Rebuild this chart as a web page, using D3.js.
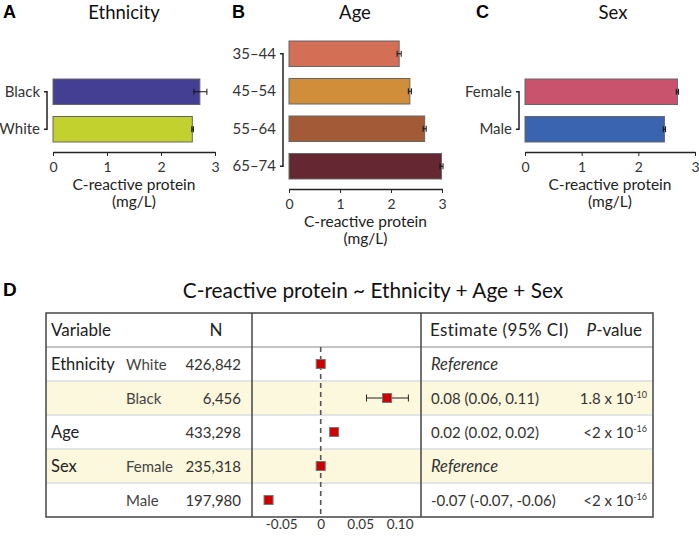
<!DOCTYPE html>
<html>
<head>
<meta charset="UTF-8">
<style>
  body { margin: 0; background: #fff; font-family: Lato, "Open Sans", sans-serif; }
  svg { display: block; }
  .letter { font-family: "Liberation Sans", Arial, sans-serif; font-weight: bold; font-size: 18px; fill: #000; }
  .ptitle { font-size: 18.5px; fill: #111; }
  .tick text { font-family: Lato, sans-serif; font-size: 14px; fill: #333; }
  .cell { font-size: 15px; fill: #222; }
</style>
</head>
<body>
<svg id="chart" width="699" height="536"></svg>
<script src="https://d3js.org/d3.v7.min.js"></script>
<script>
// panel A: ethnicity
let ethLabels = ["Black", "White"];
let ethValues = [2.72, 2.58];
let ethLow = [2.61, 2.57];
let ethHigh = [2.85, 2.60];
let ethColors = ["#453f93", "#c3d12f"];

// panel B: age
let ageLabels = ["35\u201344", "45\u201354", "55\u201364", "65\u201374"];
let ageValues = [2.16, 2.37, 2.66, 2.99];
let ageLow = [2.12, 2.34, 2.63, 2.96];
let ageHigh = [2.20, 2.40, 2.69, 3.02];
let ageColors = ["#d26f55", "#d08e3a", "#a35a36", "#652833"];

// panel C: sex
let sexLabels = ["Female", "Male"];
let sexValues = [2.69, 2.46];
let sexLow = [2.67, 2.44];
let sexHigh = [2.71, 2.48];
let sexColors = ["#c9536c", "#3b64b0"];

let barTicks = [0, 1, 2, 3];

// panel D: regression table
let varNames = ["Ethnicity", "", "Age", "Sex", ""];
let levelNames = ["White", "Black", "", "Female", "Male"];
let nValues = ["426,842", "6,456", "433,298", "235,318", "197,980"];
let estimates = [0, 0.084, 0.017, 0, -0.066];
let ciLower = [null, 0.058, 0.015, null, -0.070];
let ciUpper = [null, 0.111, 0.019, null, -0.062];
let estLabels = ["Reference", "0.08 (0.06, 0.11)", "0.02 (0.02, 0.02)", "Reference", "-0.07 (-0.07, -0.06)"];
let pBase = ["", "1.8 x 10", "<2 x 10", "", "<2 x 10"];
let pExp = ["", "-10", "-16", "", "-16"];
let forestTicks = [-0.05, 0, 0.05, 0.10];
let forestTickLabels = ["-0.05", "0", "0.05", "0.10"];

let svg = d3.select("#chart");

function barPanel(o) {
  let g = svg.append("g");
  let x = d3.scaleLinear().domain([0, 3]).range([o.x0, o.x1]);
  let y = d3.scaleBand().domain(o.labels)
      .range([o.y0, o.y0 + 37.5 * o.labels.length])
      .paddingInner(0.32).paddingOuter(0.16);

  g.append("text").attr("class", "letter").attr("x", o.lx).attr("y", 18).text(o.letter);
  g.append("text").attr("class", "ptitle").attr("x", o.tx).attr("y", 18.5)
      .attr("text-anchor", "middle").text(o.title);

  g.selectAll("rect.bar").data(o.values).enter().append("rect")
      .attr("x", x(0))
      .attr("y", (d, i) => y(o.labels[i]))
      .attr("width", d => x(d) - x(0))
      .attr("height", y.bandwidth())
      .attr("fill", (d, i) => o.colors[i])
      .attr("stroke", "#666").attr("stroke-width", 1);

  let eb = g.selectAll("g.err").data(o.values).enter().append("g")
      .attr("transform", (d, i) => "translate(0," + (y(o.labels[i]) + y.bandwidth() / 2) + ")");
  eb.append("line")
      .attr("x1", (d, i) => x(o.low[i])).attr("x2", (d, i) => x(o.high[i]))
      .attr("stroke", "#111").attr("stroke-width", 1);
  eb.append("line")
      .attr("x1", (d, i) => x(o.low[i])).attr("x2", (d, i) => x(o.low[i]))
      .attr("y1", -3).attr("y2", 3).attr("stroke", "#111");
  eb.append("line")
      .attr("x1", (d, i) => x(o.high[i])).attr("x2", (d, i) => x(o.high[i]))
      .attr("y1", -3).attr("y2", 3).attr("stroke", "#111");

  // bracket-style y axis
  let first = y(o.labels[0]) + y.bandwidth() / 2;
  let last = y(o.labels[o.labels.length - 1]) + y.bandwidth() / 2;
  let bx = x(0) - 6;
  g.append("path")
      .attr("d", "M" + (bx - 3) + "," + first + "H" + bx + "V" + last + "H" + (bx - 3))
      .attr("fill", "none").attr("stroke", "#222").attr("stroke-width", 1.5);
  g.selectAll("text.cat").data(o.labels).enter().append("text")
      .attr("class", "cell")
      .attr("x", bx - 7)
      .attr("y", d => y(d) + y.bandwidth() / 2 + 5)
      .attr("text-anchor", "end")
      .style("fill", "#333")
      .text(d => d);

  let axisY = o.y0 + 37.5 * o.labels.length + 4;
  let ax = g.append("g").attr("transform", "translate(0," + axisY + ")")
      .call(d3.axisBottom(x).tickValues(barTicks).tickFormat(d3.format("d")).tickSize(4).tickSizeOuter(0));
  ax.select(".domain").attr("stroke", "#222").attr("stroke-width", 1.5);
  ax.selectAll(".tick line").attr("stroke", "#222");
  ax.selectAll(".tick text").attr("dy", "0.95em");

  let cx = (o.x0 + o.x1) / 2;
  g.append("text").attr("class", "cell").attr("x", cx).attr("y", axisY + 38)
      .attr("text-anchor", "middle").style("fill", "#222").style("font-size", "15.5px").text("C-reactive protein");
  g.append("text").attr("class", "cell").attr("x", cx).attr("y", axisY + 55)
      .attr("text-anchor", "middle").style("fill", "#222").style("font-size", "15.5px").text("(mg/L)");
}

barPanel({letter: "A", lx: 3, title: "Ethnicity", tx: 124, x0: 53, x1: 215, y0: 73,
  labels: ethLabels, values: ethValues, low: ethLow, high: ethHigh, colors: ethColors});
barPanel({letter: "B", lx: 232, title: "Age", tx: 355, x0: 289, x1: 442, y0: 35,
  labels: ageLabels, values: ageValues, low: ageLow, high: ageHigh, colors: ageColors});
barPanel({letter: "C", lx: 476, title: "Sex", tx: 613, x0: 525, x1: 695, y0: 73,
  labels: sexLabels, values: sexValues, low: sexLow, high: sexHigh, colors: sexColors});

// ---- panel D ----
let d = svg.append("g");
d.append("text").attr("class", "letter").attr("x", 3).attr("y", 296).style("font-size", "19px").text("D");
d.append("text").attr("class", "ptitle").attr("x", 373).attr("y", 298).style("font-size", "20.8px")
    .attr("text-anchor", "middle").text("C-reactive protein ~ Ethnicity + Age + Sex");

let tLeft = 46, tRight = 653, tTop = 313, headH = 34, rowH = 34;
let divA = 252, divB = 421;
let rowY = d3.scaleBand().domain(d3.range(varNames.length))
    .range([tTop + headH, tTop + headH + rowH * varNames.length]);
let tBottom = tTop + headH + rowH * varNames.length;

d.selectAll("rect.row").data(varNames).enter().append("rect")
    .attr("x", tLeft).attr("y", (v, i) => rowY(i))
    .attr("width", tRight - tLeft).attr("height", rowY.bandwidth())
    .attr("fill", (v, i) => i % 2 === 1 ? "#fcf8dd" : "#fff");

d.selectAll("line.sep").data(d3.range(1, varNames.length)).enter().append("line")
    .attr("x1", tLeft).attr("x2", tRight)
    .attr("y1", i => rowY(i)).attr("y2", i => rowY(i))
    .attr("stroke", "#e4e4e4").attr("stroke-width", 2);
d.append("line").attr("x1", tLeft).attr("x2", tRight)
    .attr("y1", tTop + headH).attr("y2", tTop + headH)
    .attr("stroke", "#8a8a8a").attr("stroke-width", 1.2);

// forest
let fx = d3.scaleLinear().domain([-0.05, 0.10]).range([281.2, 399.7]);
d.append("line").attr("x1", fx(0)).attr("x2", fx(0))
    .attr("y1", tTop + headH).attr("y2", tBottom)
    .attr("stroke", "#555").attr("stroke-width", 1.6).attr("stroke-dasharray", "5,4");

estimates.forEach((e, i) => {
  let cy = rowY(i) + rowH / 2;
  if (ciLower[i] !== null) {
    d.append("line").attr("x1", fx(ciLower[i])).attr("x2", fx(ciUpper[i]))
        .attr("y1", cy).attr("y2", cy).attr("stroke", "#222").attr("stroke-width", 1);
    [ciLower[i], ciUpper[i]].forEach(c => {
      d.append("line").attr("x1", fx(c)).attr("x2", fx(c))
          .attr("y1", cy - 3.5).attr("y2", cy + 3.5).attr("stroke", "#222").attr("stroke-width", 1);
    });
  }
  d.append("rect").attr("x", fx(e) - 4.5).attr("y", cy - 4.5)
      .attr("width", 9).attr("height", 9)
      .attr("fill", "#cc0000").attr("stroke", "#777").attr("stroke-width", 1);
});

let fAxis = d.append("g").attr("transform", "translate(0," + tBottom + ")")
    .call(d3.axisBottom(fx).tickValues(forestTicks).tickSize(0)
      .tickFormat((v, i) => forestTickLabels[i]));
fAxis.select(".domain").remove();
fAxis.selectAll(".tick text").attr("y", 0).attr("dy", 0)
    .attr("transform", "translate(0,12)").style("font-size", "13.5px");

// table border and dividers
d.append("rect").attr("x", tLeft).attr("y", tTop)
    .attr("width", tRight - tLeft).attr("height", tBottom - tTop)
    .attr("fill", "none").attr("stroke", "#444").attr("stroke-width", 1.5);
[divA, divB].forEach(xv => {
  d.append("line").attr("x1", xv).attr("x2", xv).attr("y1", tTop).attr("y2", tBottom)
      .attr("stroke", "#444").attr("stroke-width", 1.5);
});

// header text
let hy = tTop + headH / 2 + 6;
d.append("text").attr("class", "cell").attr("x", 51).attr("y", hy).style("font-size", "17px").text("Variable");
d.append("text").attr("class", "cell").attr("x", 216).attr("y", hy).style("font-size", "17px")
    .attr("text-anchor", "middle").text("N");
d.append("text").attr("class", "cell").attr("x", 430).attr("y", hy).style("font-size", "17px")
    .style("letter-spacing", "0.4px").text("Estimate (95% CI)");
let ph = d.append("text").attr("class", "cell").attr("x", 642).attr("y", hy).style("font-size", "17px")
    .attr("text-anchor", "end");
ph.append("tspan").style("font-style", "italic").text("P");
ph.append("tspan").text("-value");

// body text
varNames.forEach((v, i) => {
  let ty = rowY(i) + rowH / 2 + 5.5;
  let isRef = ciLower[i] === null;
  d.append("text").attr("class", "cell").attr("x", 51).attr("y", ty).style("font-size", "16.5px").text(v);
  d.append("text").attr("class", "cell").attr("x", 126).attr("y", ty).style("fill", "#444").text(levelNames[i]);
  d.append("text").attr("class", "cell").attr("x", 241).attr("y", ty).attr("text-anchor", "end")
      .style("fill", "#333").text(nValues[i]);
  d.append("text").attr("class", "cell").attr("x", 431).attr("y", ty)
      .style("font-size", isRef ? "16.5px" : "15px")
      .style("font-style", isRef ? "italic" : "normal")
      .style("fill", "#333").text(estLabels[i]);
  if (pBase[i]) {
    let pt = d.append("text").attr("class", "cell").attr("x", 647).attr("y", ty)
        .attr("text-anchor", "end").style("fill", "#333");
    pt.append("tspan").text(pBase[i]);
    pt.append("tspan").attr("dy", -6).style("font-size", "9px").text(pExp[i]);
  }
});
</script>
</body>
</html>
